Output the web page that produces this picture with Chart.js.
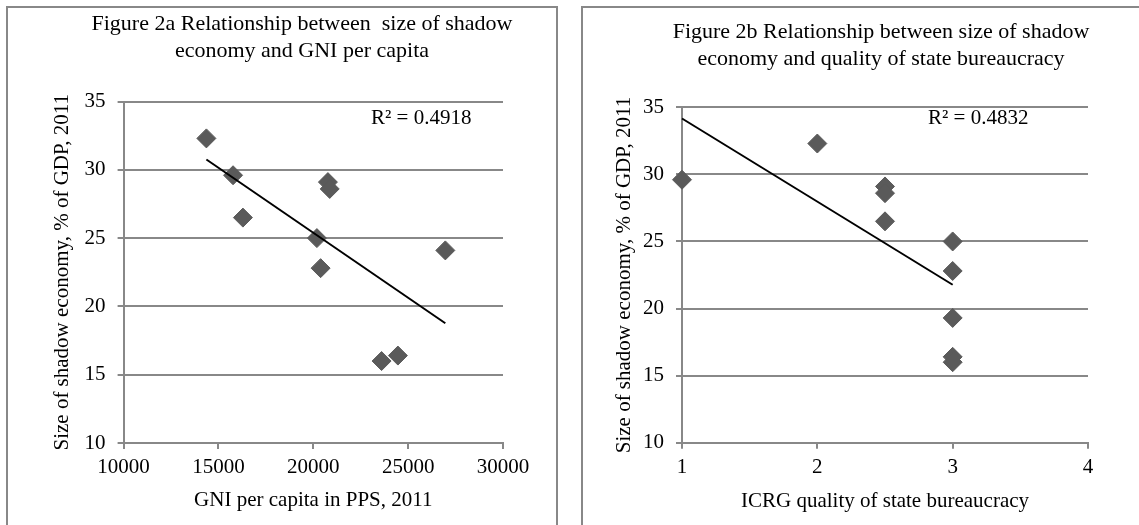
<!DOCTYPE html>
<html><head><meta charset="utf-8">
<script src="https://cdn.jsdelivr.net/npm/chart.js@4"></script>
<style>
html,body{margin:0;padding:0;background:#fff;width:1139px;height:525px;overflow:hidden;position:relative;}
.box{position:absolute;box-sizing:border-box;border:2px solid #888;}
canvas{position:absolute;top:0;}
.t{position:absolute;font-family:'Liberation Serif','Times New Roman',serif;color:#000;text-align:center;white-space:nowrap;}
</style></head><body>
<div class="box" style="left:6px;top:6px;width:552px;height:600px"></div>
<div class="box" style="left:581px;top:6px;width:620px;height:600px"></div>
<canvas id="c1" width="570" height="525" style="left:0"></canvas>
<canvas id="c2" width="569" height="525" style="left:570px"></canvas>
<div class="t" id="title1" style="left:52px;top:10px;width:500px;font-size:22px;line-height:26.5px"></div>
<div class="t" id="title2" style="left:631px;top:18px;width:500px;font-size:22px;line-height:26.5px"></div>
<div class="t" id="r1" style="left:371px;top:105px;font-size:21px;line-height:25px;text-align:left"></div>
<div class="t" id="r2" style="left:928px;top:105px;font-size:21px;line-height:25px;text-align:left"></div>
<script>
// ---- data ----
const gniPerCapita = [14365, 15770, 16290, 20770, 20865, 20190, 20385, 26960, 23600, 24460];
const shadowEconomyA = [32.3, 29.6, 26.5, 29.1, 28.6, 25.0, 22.8, 24.1, 16.0, 16.4];
const bureaucracyQuality = [1, 2, 2.5, 2.5, 2.5, 3, 3, 3, 3, 3];
const shadowEconomyB = [29.6, 32.3, 29.1, 28.6, 26.5, 25.0, 22.8, 19.3, 16.4, 16.0];
const gniTicks = [10000, 15000, 20000, 25000, 30000];
const qualityTicks = [1, 2, 3, 4];
const shadowTicks = [10, 15, 20, 25, 30, 35];
const titleA = ['Figure 2a Relationship between\u00a0 size of shadow', 'economy and GNI per capita'];
const titleB = ['Figure 2b Relationship between size of shadow', 'economy and quality of state bureaucracy'];
const xTitleA = 'GNI per capita in PPS, 2011';
const xTitleB = 'ICRG quality of state bureaucracy';
const yTitle = 'Size of shadow economy, % of GDP, 2011';
const rSquaredA = 'R² = 0.4918';
const rSquaredB = 'R² = 0.4832';

// ---- text ----
document.getElementById('title1').innerHTML = titleA.join('<br>');
document.getElementById('title2').innerHTML = titleB.join('<br>');
document.getElementById('r1').textContent = rSquaredA;
document.getElementById('r2').textContent = rSquaredB;

const FONT = "'Liberation Serif','Times New Roman',serif";
Chart.defaults.font.family = FONT;
Chart.defaults.color = '#000';

function trend(xs, ys) {
  const n = xs.length;
  const mx = xs.reduce((a, b) => a + b, 0) / n;
  const my = ys.reduce((a, b) => a + b, 0) / n;
  let sxx = 0, sxy = 0;
  for (let i = 0; i < n; i++) { sxx += (xs[i] - mx) ** 2; sxy += (xs[i] - mx) * (ys[i] - my); }
  const b = sxy / sxx, a = my - b * mx;
  const x0 = Math.min(...xs), x1 = Math.max(...xs);
  return [{x: x0, y: a + b * x0}, {x: x1, y: a + b * x1}];
}

function build(id, xs, ys, xTicks, yTicks, xTitle, g) {
  const pts = xs.map((x, i) => ({x, y: ys[i]}));
  const gridColor = '#888';
  new Chart(document.getElementById(id), {
    type: 'scatter',
    data: {
      datasets: [
        {data: trend(xs, ys), showLine: true, borderColor: '#000', borderWidth: 2, pointRadius: 0, order: 0, clip: false},
        {data: pts, pointStyle: 'rectRot', pointRadius: 9.5, backgroundColor: '#5a5a5a', borderColor: '#5a5a5a', borderWidth: 1, order: 1, clip: false}
      ]
    },
    options: {
      responsive: false, animation: false, devicePixelRatio: 1,
      layout: {padding: {left: g.padL, right: g.padR, top: g.padT, bottom: 0}},
      plugins: {legend: {display: false}, tooltip: {enabled: false}},
      scales: {
        x: {
          type: 'linear', min: xTicks[0], max: xTicks[xTicks.length - 1],
          afterBuildTicks: s => { s.ticks = xTicks.map(v => ({value: v})); },
          afterFit: s => { s.height = g.xH; },
          ticks: {font: {size: 21}, padding: 6, maxRotation: 0, autoSkip: false, callback: v => String(v)},
          grid: {drawOnChartArea: false, drawTicks: true, tickLength: 6, color: gridColor, lineWidth: 2},
          border: {display: true, color: gridColor, width: 2},
          title: {display: true, text: xTitle, font: {size: 21}, padding: {top: 0, bottom: g.xTitlePad}}
        },
        y: {
          type: 'linear', min: yTicks[0], max: yTicks[yTicks.length - 1],
          afterBuildTicks: s => { s.ticks = yTicks.map(v => ({value: v})); },
          afterFit: s => { s.width = g.yW; },
          ticks: {font: {size: 21}, padding: 12, autoSkip: false, callback: v => String(v)},
          grid: {drawTicks: true, tickLength: 6, color: gridColor, lineWidth: 2},
          border: {display: true, color: gridColor, width: 2},
          title: {display: true, text: yTitle, font: {size: 21}, padding: {top: 0, bottom: 0}}
        }
      }
    }
  });
}

build('c1', gniPerCapita, shadowEconomyA, gniTicks, shadowTicks, xTitleA,
  {padL: 49.4, padR: 67, padT: 101.5, yW: 74.2, xH: 82, xTitlePad: 12.4});
build('c2', bureaucracyQuality, shadowEconomyB, qualityTicks, shadowTicks, xTitleB,
  {padL: 41.4, padR: 51, padT: 107.3, yW: 70.6, xH: 82.3, xTitlePad: 11.4});
</script>
</body></html>
